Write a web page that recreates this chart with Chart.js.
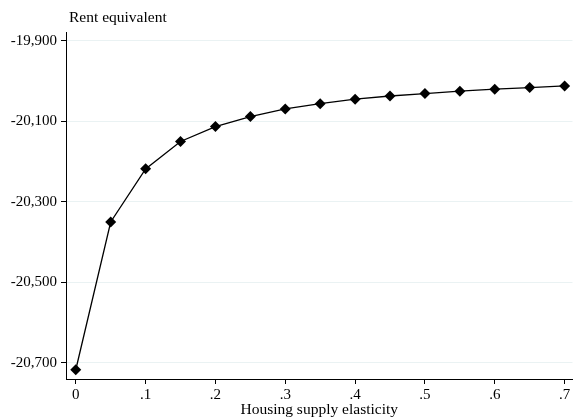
<!DOCTYPE html>
<html>
<head>
<meta charset="utf-8">
<script src="https://cdn.jsdelivr.net/npm/chart.js@4/dist/chart.umd.min.js"></script>
<style>
  html, body { margin: 0; padding: 0; background: #fff; }
  #wrap { width: 578px; height: 419px; }
</style>
</head>
<body>
<div id="wrap"><canvas id="chart" width="578" height="419"></canvas></div>
<script>
// ---------------------------------------- | Data

const elasticity = [0, 0.05, 0.1, 0.15, 0.2, 0.25, 0.3, 0.35, 0.4, 0.45, 0.5, 0.55, 0.6, 0.65, 0.7]
const rentEquivalent = [-20717, -20350, -20218, -20150, -20113, -20088, -20069, -20056, -20045, -20037, -20031, -20025, -20020, -20016, -20012]

const xTicks = [0, 0.1, 0.2, 0.3, 0.4, 0.5, 0.6, 0.7]
const xTickLabels = ["0", ".1", ".2", ".3", ".4", ".5", ".6", ".7"]
const yTicks = [-20700, -20500, -20300, -20100, -19900]

// ---------------------------------------- | Chart

const serifFamily = "'Liberation Serif', 'Times New Roman', serif"
const tickFont = { family: serifFamily, size: 15 }
const titleFont = { family: serifFamily, size: 15.5 }

const yTitle = {
  id: "yTitle",
  afterDraw(chart) {
    const { ctx, chartArea } = chart
    ctx.save()
    ctx.font = "15.5px " + serifFamily
    ctx.fillStyle = "#000"
    ctx.textAlign = "left"
    ctx.textBaseline = "alphabetic"
    ctx.fillText("Rent equivalent", chartArea.left + 3, 22)
    ctx.restore()
  }
}

const ctx = document.getElementById("chart").getContext("2d")

new Chart(ctx, {
  type: "line",
  data: {
    datasets: [{
      data: elasticity.map((x, i) => ({ x, y: rentEquivalent[i] })),
      borderColor: "#000",
      backgroundColor: "#000",
      borderWidth: 1.3,
      pointStyle: "rectRot",
      pointRadius: 5.5,
      pointBackgroundColor: "#000",
      pointBorderColor: "#000",
      pointBorderWidth: 0,
      tension: 0
    }]
  },
  options: {
    responsive: false,
    animation: false,
    layout: { padding: { top: 32, right: 0, left: 0, bottom: 0 } },
    plugins: {
      legend: { display: false },
      tooltip: { enabled: false }
    },
    scales: {
      x: {
        type: "linear",
        min: -0.014,
        max: 0.7113,
        afterBuildTicks: scale => { scale.ticks = xTicks.map(value => ({ value })) },
        afterFit: scale => { scale.height = 40 },
        ticks: {
          color: "#000",
          font: tickFont,
          padding: 2,
          maxRotation: 0,
          autoSkip: false,
          callback: (value) => xTickLabels[xTicks.indexOf(value)]
        },
        grid: {
          drawOnChartArea: false,
          drawTicks: true,
          tickLength: 5,
          tickColor: "#000"
        },
        border: { color: "#000", width: 1 },
        title: {
          display: true,
          text: "Housing supply elasticity",
          color: "#000",
          font: titleFont,
          padding: { top: 0, bottom: 0 }
        }
      },
      y: {
        type: "linear",
        min: -20740,
        max: -19878,
        afterBuildTicks: scale => { scale.ticks = yTicks.map(value => ({ value })) },
        afterFit: scale => { scale.width = 66 },
        ticks: {
          color: "#000",
          font: tickFont,
          padding: 4,
          callback: value => value.toLocaleString("en-US")
        },
        grid: {
          color: "#eaf2f3",
          lineWidth: 1,
          drawTicks: true,
          tickLength: 5,
          tickColor: "#000"
        },
        border: { color: "#000", width: 1 }
      }
    }
  },
  plugins: [yTitle]
})
</script>
</body>
</html>
